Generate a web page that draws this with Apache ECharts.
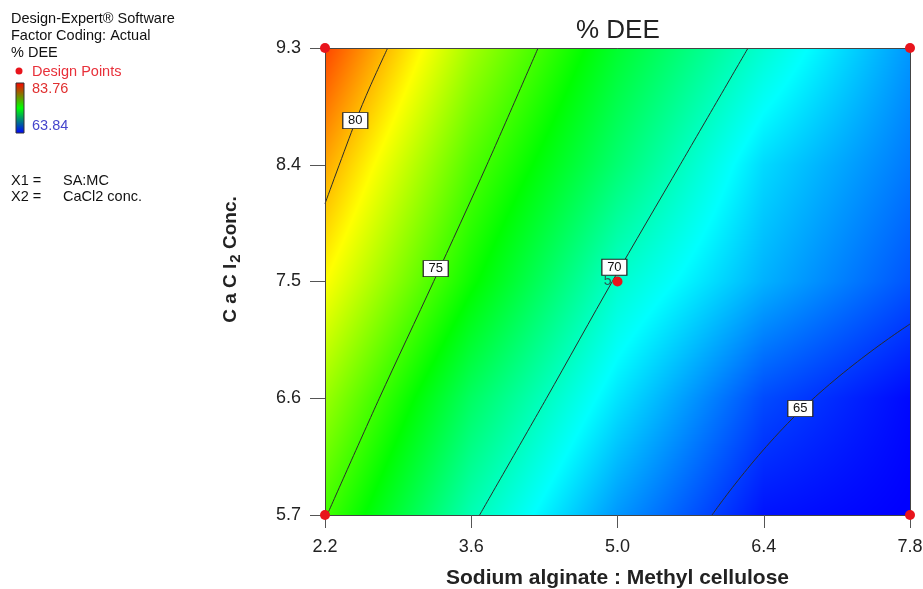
<!DOCTYPE html>
<html>
<head>
<meta charset="utf-8">
<title>% DEE contour</title>
<script src="https://cdn.jsdelivr.net/npm/echarts@6/dist/echarts.min.js"></script>
<style>
  html, body { margin: 0; padding: 0; background: #ffffff; }
  #chart { width: 923px; height: 589px; }
</style>
</head>
<body>
<div id="chart"></div>
<script>
// Factor levels (X1 = SA:MC ratio, X2 = CaCl2 concentration)
const saMcLevels = [2.2, 3.6, 5.0, 6.4, 7.8];
const cacl2Levels = [5.7, 6.6, 7.5, 8.4, 9.3];

// % DEE at each grid node, one row per CaCl2 level (columns follow saMcLevels)
const deeRow57 = [75.1, 70.3, 66.8, 64.2, 63.8];
const deeRow66 = [76.8, 71.9, 68.3, 65.3, 64.0];
const deeRow75 = [78.8, 74.0, 69.8, 67.3, 65.5];
const deeRow84 = [80.5, 75.4, 71.6, 68.1, 66.2];
const deeRow93 = [82.4, 77.0, 72.9, 69.7, 66.8];

// Response range shown on the colour key
const deeMin = 63.84;
const deeMax = 83.76;

// Contour lines as [SA:MC, CaCl2] vertices
const contour80 = [[2.80, 9.3], [2.63, 9.0], [2.49, 8.73], [2.2, 8.10]];
const contour75 = [[4.24, 9.3], [3.75, 8.4], [3.24, 7.5], [2.72, 6.6], [2.22, 5.7]];
const contour70 = [[6.25, 9.3], [5.60, 8.4], [4.95, 7.5], [4.32, 6.6], [3.68, 5.7]];
const contour65 = [[5.905, 5.7], [6.757, 6.509], [7.8, 7.172]];

// Contour label anchors [SA:MC, CaCl2, level]
const contourLabels = [[2.49, 8.74, 80], [3.26, 7.60, 75], [4.97, 7.61, 70], [6.75, 6.52, 65]];

// Design points and the replicate count at the centre point
const designPoints = [[2.2, 9.3], [7.8, 9.3], [2.2, 5.7], [7.8, 5.7], [5.0, 7.5]];
const centreReplicates = 5;

const FONT = '"Liberation Sans", Arial, sans-serif';
const deeRows = [deeRow57, deeRow66, deeRow75, deeRow84, deeRow93];

// Blue -> cyan -> green -> yellow -> red colour ramp
const ramp = [
  [0.00, [0, 0, 255]],
  [0.25, [0, 255, 255]],
  [0.50, [0, 255, 0]],
  [0.75, [255, 255, 0]],
  [1.00, [255, 0, 0]]
];
function rampColor(v) {
  let t = (v - deeMin) / (deeMax - deeMin);
  t = Math.max(0, Math.min(1, t));
  for (let k = 1; k < ramp.length; k++) {
    if (t <= ramp[k][0]) {
      const a = ramp[k - 1], b = ramp[k];
      const f = (t - a[0]) / (b[0] - a[0]);
      return [
        Math.round(a[1][0] + (b[1][0] - a[1][0]) * f),
        Math.round(a[1][1] + (b[1][1] - a[1][1]) * f),
        Math.round(a[1][2] + (b[1][2] - a[1][2]) * f)
      ];
    }
  }
  return ramp[ramp.length - 1][1];
}

// One item per grid cell: corner coordinates followed by the four corner values
const cells = [];
for (let r = 0; r < cacl2Levels.length - 1; r++) {
  for (let c = 0; c < saMcLevels.length - 1; c++) {
    cells.push([
      saMcLevels[c], cacl2Levels[r], saMcLevels[c + 1], cacl2Levels[r + 1],
      deeRows[r][c], deeRows[r][c + 1], deeRows[r + 1][c], deeRows[r + 1][c + 1]
    ]);
  }
}

// Shade a cell with a smooth colour field between its four corner values
function renderCell(params, api) {
  const x0 = api.value(0), y0 = api.value(1), x1 = api.value(2), y1 = api.value(3);
  const v00 = api.value(4), v10 = api.value(5), v01 = api.value(6), v11 = api.value(7);
  const tl = api.coord([x0, y1]);
  const br = api.coord([x1, y0]);
  const left = Math.floor(tl[0]), top = Math.floor(tl[1]);
  const w = Math.ceil(br[0]) - left, h = Math.ceil(br[1]) - top;
  const cv = document.createElement('canvas');
  cv.width = w; cv.height = h;
  const ctx = cv.getContext('2d');
  const img = ctx.createImageData(w, h);
  const cw = br[0] - tl[0], ch = br[1] - tl[1];
  for (let py = 0; py < h; py++) {
    const sy = top + py + 0.5;
    const s = Math.max(0, Math.min(1, (br[1] - sy) / ch));
    for (let px = 0; px < w; px++) {
      const sx = left + px + 0.5;
      const u = Math.max(0, Math.min(1, (sx - tl[0]) / cw));
      const v = v00 * (1 - u) * (1 - s) + v10 * u * (1 - s) + v01 * (1 - u) * s + v11 * u * s;
      const col = rampColor(v);
      const k = (py * w + px) * 4;
      img.data[k] = col[0]; img.data[k + 1] = col[1]; img.data[k + 2] = col[2]; img.data[k + 3] = 255;
    }
  }
  ctx.putImageData(img, 0, 0);
  return {
    type: 'image',
    style: { image: cv, x: left, y: top, width: w, height: h }
  };
}

function contourSeries(points, smooth) {
  return {
    type: 'line',
    data: points,
    smooth: smooth,
    showSymbol: false,
    silent: true,
    z: 4,
    lineStyle: { color: '#2b2b2b', width: 1 }
  };
}

const axisTextStyle = { fontFamily: FONT, fontSize: 18, color: '#222' };

const chart = echarts.init(document.getElementById('chart'), null, { renderer: 'canvas' });

chart.setOption({
  animation: false,
  backgroundColor: '#ffffff',
  title: {
    text: '% DEE',
    left: 571,
    top: 13,
    textStyle: { fontFamily: FONT, fontSize: 26, fontWeight: 'normal', color: '#222' }
  },
  grid: { left: 325, right: 13, top: 48, bottom: 74, containLabel: false, outerBoundsMode: 'none' },
  xAxis: [
    {
      type: 'value',
      min: 2.2,
      max: 7.8,
      z: 5,
      name: 'Sodium alginate : Methyl cellulose',
      nameLocation: 'middle',
      nameGap: 53,
      nameTextStyle: { fontFamily: FONT, fontSize: 21, fontWeight: 'bold', color: '#222' },
      axisLine: { show: true, lineStyle: { color: '#444', width: 1 } },
      axisTick: { show: true, length: 13, lineStyle: { color: '#555' }, customValues: saMcLevels },
      axisLabel: { ...axisTextStyle, margin: 23, customValues: saMcLevels, formatter: v => v.toFixed(1) },
      splitLine: { show: false }
    },
    {
      type: 'value',
      position: 'top',
      min: 2.2,
      max: 7.8,
      z: 5,
      axisLine: { show: true, lineStyle: { color: '#444', width: 1 } },
      axisTick: { show: false },
      axisLabel: { show: false },
      splitLine: { show: false }
    }
  ],
  yAxis: [
    {
      type: 'value',
      min: 5.7,
      max: 9.3,
      z: 5,
      name: '{a|C a C l}{s|2}{a| Conc.}',
      nameLocation: 'middle',
      nameGap: 82,
      nameTextStyle: {
        fontFamily: FONT, fontSize: 19, fontWeight: 'bold', color: '#222',
        padding: [0, 0, 0, 44],
        rich: {
          a: { fontFamily: FONT, fontSize: 19, fontWeight: 'bold', color: '#222' },
          s: { fontFamily: FONT, fontSize: 15, fontWeight: 'bold', color: '#222', padding: [10, 0, 0, 1], verticalAlign: 'bottom' }
        }
      },
      axisLine: { show: true, lineStyle: { color: '#444', width: 1 } },
      axisTick: { show: true, length: 15, lineStyle: { color: '#555' }, customValues: cacl2Levels },
      axisLabel: { ...axisTextStyle, margin: 24, customValues: cacl2Levels, formatter: v => v.toFixed(1) },
      splitLine: { show: false }
    },
    {
      type: 'value',
      position: 'right',
      min: 5.7,
      max: 9.3,
      z: 5,
      axisLine: { show: true, lineStyle: { color: '#444', width: 1 } },
      axisTick: { show: false },
      axisLabel: { show: false },
      splitLine: { show: false }
    }
  ],
  series: [
    {
      type: 'custom',
      data: cells,
      encode: { x: [0, 2], y: [1, 3] },
      renderItem: renderCell,
      silent: true,
      z: 1
    },
    contourSeries(contour80, 0.3),
    contourSeries(contour75, 0.3),
    contourSeries(contour70, 0.3),
    contourSeries(contour65, 0.5),
    {
      type: 'scatter',
      data: contourLabels,
      symbol: 'rect',
      symbolSize: [25, 16],
      silent: true,
      z: 6,
      itemStyle: { color: '#ffffff', borderColor: '#222', borderWidth: 1, opacity: 1 },
      label: {
        show: true,
        position: 'inside',
        formatter: p => String(p.value[2]),
        fontFamily: FONT,
        fontSize: 13,
        color: '#111'
      }
    },
    {
      type: 'scatter',
      data: designPoints.map(p => (p[0] === 5.0 && p[1] === 7.5)
        ? { value: p, label: { show: true } }
        : { value: p }),
      symbol: 'circle',
      symbolSize: 10,
      silent: true,
      z: 10,
      itemStyle: { color: '#e8141c', opacity: 1 },
      label: {
        show: false,
        position: 'left',
        distance: 1,
        formatter: () => String(centreReplicates),
        fontFamily: FONT,
        fontSize: 14,
        color: '#2a5a50'
      }
    }
  ],
  graphic: [
    { type: 'text', x: 11, y: 19, style: { text: 'Design-Expert® Software', font: '14.5px ' + FONT, fill: '#111', verticalAlign: 'middle' } },
    { type: 'text', x: 11, y: 36, style: { text: 'Factor Coding: Actual', font: '14.5px ' + FONT, fill: '#111', verticalAlign: 'middle' } },
    { type: 'text', x: 11, y: 53, style: { text: '% DEE', font: '14.5px ' + FONT, fill: '#111', verticalAlign: 'middle' } },
    { type: 'circle', shape: { cx: 19, cy: 71, r: 3.5 }, style: { fill: '#e8141c' } },
    { type: 'text', x: 32, y: 72, style: { text: 'Design Points', font: '14.5px ' + FONT, fill: '#e8303a', verticalAlign: 'middle' } },
    {
      type: 'rect',
      shape: { x: 16, y: 83, width: 8, height: 50 },
      style: {
        fill: new echarts.graphic.LinearGradient(0, 0, 0, 1, [
          { offset: 0, color: '#ff0000' },
          { offset: 0.5, color: '#00ff00' },
          { offset: 1, color: '#0000ff' }
        ]),
        stroke: '#333',
        lineWidth: 1
      }
    },
    { type: 'text', x: 32, y: 89, style: { text: deeMax.toFixed(2), font: '14.5px ' + FONT, fill: '#e03030', verticalAlign: 'middle' } },
    { type: 'text', x: 32, y: 126, style: { text: deeMin.toFixed(2), font: '14.5px ' + FONT, fill: '#4545cc', verticalAlign: 'middle' } },
    { type: 'text', x: 11, y: 181, style: { text: 'X1 =', font: '14.5px ' + FONT, fill: '#111', verticalAlign: 'middle' } },
    { type: 'text', x: 63, y: 181, style: { text: 'SA:MC', font: '14.5px ' + FONT, fill: '#111', verticalAlign: 'middle' } },
    { type: 'text', x: 11, y: 197, style: { text: 'X2 =', font: '14.5px ' + FONT, fill: '#111', verticalAlign: 'middle' } },
    { type: 'text', x: 63, y: 197, style: { text: 'CaCl2 conc.', font: '14.5px ' + FONT, fill: '#111', verticalAlign: 'middle' } }
  ]
});
</script>
</body>
</html>
